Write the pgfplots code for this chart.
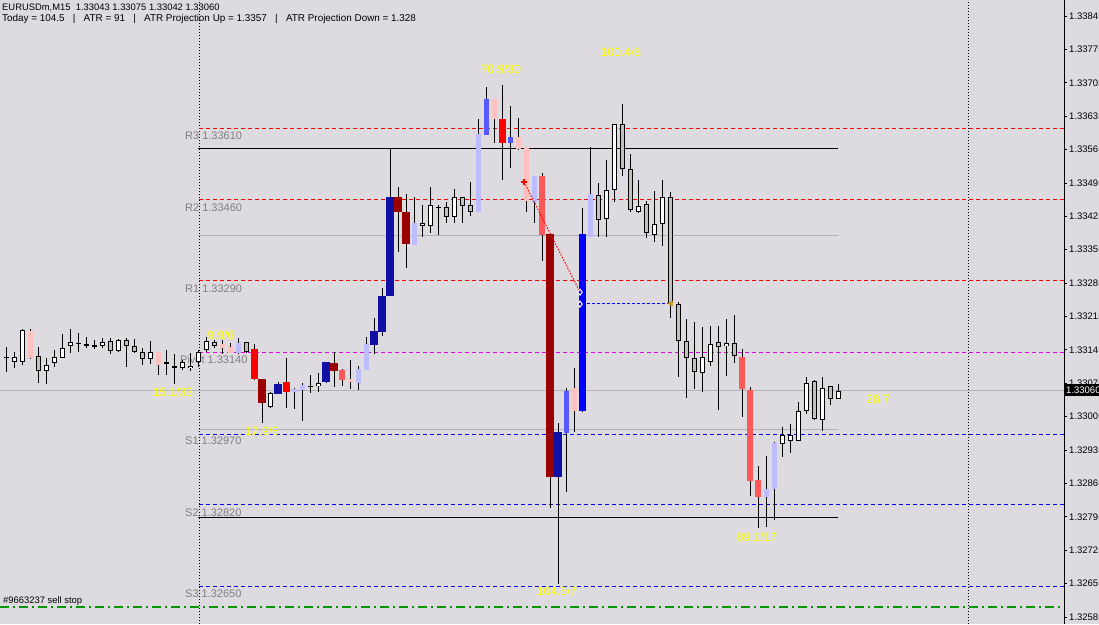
\documentclass[border=0pt]{standalone}
\usepackage{pgfplots}
\pgfplotsset{compat=1.18}
\usepackage{pgfplotstable}
\usepackage{fontspec}
\setmainfont{Liberation Sans}
\definecolor{bg}{RGB}{221,219,224}
\definecolor{lvl}{RGB}{128,128,128}
\definecolor{grayline}{RGB}{178,178,184}
\definecolor{silver}{RGB}{192,192,192}
\definecolor{lpink}{RGB}{255,192,192}
\definecolor{lred}{RGB}{255,88,88}
\definecolor{pred}{RGB}{255,0,0}
\definecolor{dred}{RGB}{153,0,0}
\definecolor{lblue}{RGB}{188,188,255}
\definecolor{mblue}{RGB}{88,88,255}
\definecolor{pblue}{RGB}{0,0,255}
\definecolor{dblue}{RGB}{16,16,165}
\definecolor{mag}{RGB}{230,0,230}
\definecolor{stopgreen}{RGB}{0,150,0}
\definecolor{yel}{RGB}{255,255,0}
\definecolor{orng}{RGB}{210,160,30}
\newcommand{\fs}[1]{\fontsize{#1}{#1}\selectfont}

% i = bar index, O H L C = prices, k = colour class
% k: 0 white, 1 grey, 2 light pink, 3 light red, 4 red, 5 dark red,
%    6 light blue, 7 medium blue, 8 blue, 9 dark blue
\pgfplotstableread{
i O H L C k
0 1.33130 1.33151 1.33099 1.33132 0
1 1.33120 1.33141 1.33109 1.33132 0
2 1.33120 1.33189 1.33115 1.33187 0
3 1.33185 1.33189 1.33126 1.33128 2
4 1.33132 1.33151 1.33076 1.33101 1
5 1.33101 1.33130 1.33074 1.33115 0
6 1.33118 1.33145 1.33111 1.33130 0
7 1.33130 1.33180 1.33130 1.33151 0
8 1.33153 1.33189 1.33138 1.33162 0
9 1.33159 1.33182 1.33141 1.33159 0
10 1.33155 1.33172 1.33149 1.33159 0
11 1.33155 1.33168 1.33149 1.33155 0
12 1.33153 1.33170 1.33149 1.33162 0
13 1.33164 1.33170 1.33138 1.33143 1
14 1.33143 1.33170 1.33141 1.33166 0
15 1.33168 1.33172 1.33111 1.33155 1
16 1.33153 1.33168 1.33138 1.33141 1
17 1.33143 1.33149 1.33115 1.33128 1
18 1.33126 1.33164 1.33115 1.33141 0
19 1.33141 1.33141 1.33092 1.33115 2
20 1.33118 1.33145 1.33092 1.33118 0
21 1.33107 1.33138 1.33074 1.33111 0
22 1.33107 1.33124 1.33103 1.33120 0
23 1.33107 1.33141 1.33103 1.33113 0
24 1.33120 1.33145 1.33109 1.33141 0
25 1.33145 1.33172 1.33141 1.33164 0
26 1.33162 1.33166 1.33149 1.33153 1
27 1.33157 1.33166 1.33138 1.33149 2
28 1.33151 1.33159 1.33138 1.33138 2
29 1.33138 1.33170 1.33138 1.33159 6
30 1.33162 1.33162 1.33138 1.33141 1
31 1.33147 1.33159 1.33084 1.33084 4
32 1.33084 1.33084 1.32992 1.33034 5
33 1.33027 1.33057 1.33025 1.33055 0
34 1.33055 1.33078 1.33055 1.33076 9
35 1.33078 1.33128 1.33023 1.33057 4
36 1.33057 1.33067 1.33023 1.33065 6
37 1.33061 1.33076 1.32996 1.33071 6
38 1.33069 1.33092 1.33055 1.33069 0
39 1.33069 1.33097 1.33057 1.33076 0
40 1.33078 1.33120 1.33076 1.33120 9
41 1.33120 1.33141 1.33067 1.33103 5
42 1.33105 1.33105 1.33071 1.33084 3
43 1.33084 1.33124 1.33063 1.33078 2
44 1.33076 1.33113 1.33061 1.33105 6
45 1.33103 1.33172 1.33103 1.33159 6
46 1.33157 1.33212 1.33138 1.33185 9
47 1.33185 1.33275 1.33174 1.33260 9
48 1.33258 1.33568 1.33258 1.33466 9
49 1.33466 1.33487 1.33350 1.33434 5
50 1.33436 1.33474 1.33319 1.33369 5
51 1.33365 1.33466 1.33365 1.33413 6
52 1.33405 1.33449 1.33382 1.33413 0
53 1.33405 1.33487 1.33392 1.33449 0
54 1.33445 1.33449 1.33386 1.33445 0
55 1.33445 1.33455 1.33411 1.33424 1
56 1.33424 1.33482 1.33411 1.33466 0
57 1.33466 1.33466 1.33411 1.33449 1
58 1.33449 1.33497 1.33426 1.33434 1
59 1.33434 1.33629 1.33434 1.33598 6
60 1.33596 1.33698 1.33596 1.33671 7
61 1.33671 1.33671 1.33579 1.33629 2
62 1.33631 1.33702 1.33503 1.33579 4
63 1.33579 1.33658 1.33528 1.33591 7
64 1.33591 1.33631 1.33564 1.33566 2
65 1.33570 1.33570 1.33436 1.33457 2
66 1.33457 1.33510 1.33411 1.33510 6
67 1.33510 1.33518 1.33333 1.33386 3
68 1.33388 1.33388 1.32814 1.32879 5
69 1.32879 1.32992 1.32656 1.32973 9
70 1.32971 1.33065 1.32847 1.33059 7
71 1.33067 1.33107 1.32973 1.33017 2
72 1.33017 1.33442 1.33015 1.33388 8
73 1.33382 1.33572 1.33382 1.33472 6
74 1.33472 1.33495 1.33382 1.33419 1
75 1.33419 1.33543 1.33382 1.33480 0
76 1.33480 1.33619 1.33457 1.33619 0
77 1.33619 1.33663 1.33512 1.33524 1
78 1.33526 1.33556 1.33434 1.33440 1
79 1.33436 1.33503 1.33434 1.33449 0
80 1.33451 1.33459 1.33380 1.33390 1
81 1.33386 1.33478 1.33371 1.33409 0
82 1.33409 1.33501 1.33363 1.33466 0
83 1.33466 1.33476 1.33212 1.33243 1
84 1.33241 1.33245 1.33088 1.33164 1
85 1.33164 1.33210 1.33044 1.33128 1
86 1.33128 1.33203 1.33063 1.33099 1
87 1.33097 1.33195 1.33057 1.33130 0
88 1.33122 1.33195 1.33111 1.33159 0
89 1.33162 1.33195 1.33019 1.33151 1
90 1.33153 1.33210 1.33092 1.33159 0
91 1.33159 1.33220 1.33118 1.33132 1
92 1.33130 1.33147 1.33004 1.33063 3
93 1.33061 1.33069 1.32839 1.32870 3
94 1.32872 1.32902 1.32772 1.32837 3
95 1.32837 1.32925 1.32776 1.32855 6
96 1.32853 1.32952 1.32790 1.32950 6
97 1.32950 1.32983 1.32920 1.32967 0
98 1.32954 1.32990 1.32929 1.32967 0
99 1.32956 1.33036 1.32954 1.33019 0
100 1.33019 1.33090 1.33013 1.33078 0
101 1.33080 1.33082 1.33000 1.33000 1
102 1.33000 1.33090 1.32977 1.33067 0
103 1.33069 1.33069 1.33029 1.33042 1
104 1.33043 1.33075 1.33042 1.33060 0
}\candles

% body of one colour class, no outline
\newcommand{\cbody}[3]{%
\addplot[forget plot, draw=none, mark=none, restrict expr to domain={\thisrow{k}}{#1:#1},
  error bars/.cd, y dir=both, y explicit, error mark=none,
  error bar style={draw=#2, solid, line width=#3}]
  table[x=i, y expr={(\thisrow{O}+\thisrow{C})/2},
        y error expr={max(abs(\thisrow{C}-\thisrow{O})/2,0.0000105)}] {\candles};}
% fill of an outlined body (1px inside the outline)
\newcommand{\cfill}[3]{%
\addplot[forget plot, draw=none, mark=none, restrict expr to domain={\thisrow{k}}{#1:#1},
  error bars/.cd, y dir=both, y explicit, error mark=none,
  error bar style={draw=#2, solid, line width=#3}]
  table[x=i, y expr={(\thisrow{O}+\thisrow{C})/2},
        y error expr={max(abs(\thisrow{C}-\thisrow{O})/2-0.000021,0)}] {\candles};}

\begin{document}
\begin{tikzpicture}[x=1pt,y=1pt]
\useasboundingbox (0,0) rectangle (1099,624);
\fill[bg] (0,0) rectangle (1099,624);
\begin{axis}[at={(0,0)}, anchor=south west, scale only axis,
  width=1064pt, height=624pt,
  xmin=-0.75, xmax=132.25, ymin=1.325703, ymax=1.338785,
  axis line style={draw=none}, xtick=\empty,
  ytick pos=right, tick align=outside, major tick length=3pt,
  ytick style={black, line width=0.8pt},
  scaled y ticks=false,
  ytick={1.32585,1.32655,1.32725,1.32795,1.32865,1.32935,1.33005,1.33075,1.33145,1.33215,1.33285,1.33355,1.33425,1.33495,1.33565,1.33635,1.33705,1.33775,1.33845},
  yticklabels={1.32585,1.32655,1.32725,1.32795,1.32865,1.32935,1.33005,1.33075,1.33145,1.33215,1.33285,1.33355,1.33425,1.33495,1.33565,1.33635,1.33705,1.33775,1.33845},
  yticklabel style={anchor=west, inner sep=0pt, xshift=2pt, font=\fs{9.5}},
  clip=false]

% day separators
\addplot[black, line width=0.8pt, dash pattern=on 1pt off 2pt] coordinates {(24.125,1.325703) (24.125,1.338785)};
\addplot[black, line width=0.8pt, dash pattern=on 1pt off 2pt] coordinates {(120.25,1.325703) (120.25,1.338785)};

% grey and black lines
\addplot[grayline, line width=1.1pt] coordinates {(-0.75,1.33060) (132.25,1.33060)};
\addplot[grayline, line width=1.1pt] coordinates {(24,1.33385) (104,1.33385)};
\addplot[grayline, line width=1.1pt] coordinates {(24,1.32978) (104,1.32978)};
\addplot[black, line width=0.9pt] coordinates {(24,1.33568) (104,1.33568)};
\addplot[black, line width=0.9pt] coordinates {(24,1.32793) (104,1.32793)};

% pivot levels
\addplot[pred, line width=0.9pt, dash pattern=on 4pt off 3pt] coordinates {(24.125,1.33610) (132.25,1.33610)};
\addplot[pred, line width=0.9pt, dash pattern=on 4pt off 3pt] coordinates {(24.125,1.33460) (132.25,1.33460)};
\addplot[pred, line width=0.9pt, dash pattern=on 4pt off 3pt] coordinates {(24.125,1.33290) (132.25,1.33290)};
\addplot[mag, line width=0.9pt, dash pattern=on 4pt off 3pt] coordinates {(24.125,1.33140) (132.25,1.33140)};
\addplot[pblue, line width=0.9pt, dash pattern=on 4pt off 3pt] coordinates {(24.125,1.32968) (132.25,1.32968)};
\addplot[pblue, line width=0.9pt, dash pattern=on 4pt off 3pt] coordinates {(24.125,1.32820) (132.25,1.32820)};
\addplot[pblue, line width=0.9pt, dash pattern=on 4pt off 3pt] coordinates {(24.125,1.32650) (132.25,1.32650)};

% sell stop order
\addplot[stopgreen, line width=1.5pt, dash pattern=on 9pt off 4pt on 2pt off 4pt] coordinates {(-0.75,1.32606) (132.25,1.32606)};

% level labels
\node[anchor=base west, inner sep=0pt, text=lvl, font=\fs{11}, yshift=-11.5pt] at (axis cs:22.375,1.33610) {R3 1.33610};
\node[anchor=base west, inner sep=0pt, text=lvl, font=\fs{11}, yshift=-11.5pt] at (axis cs:22.375,1.33460) {R2 1.33460};
\node[anchor=base west, inner sep=0pt, text=lvl, font=\fs{11}, yshift=-11.5pt] at (axis cs:22.375,1.33290) {R1 1.33290};
\node[anchor=base west, inner sep=0pt, text=lvl, font=\fs{11}, yshift=-11.5pt] at (axis cs:21.75,1.33140) {Pivot 1.33140};
\node[anchor=base west, inner sep=0pt, text=lvl, font=\fs{11}, yshift=-11.5pt] at (axis cs:22.375,1.32970) {S1 1.32970};
\node[anchor=base west, inner sep=0pt, text=lvl, font=\fs{11}, yshift=-11.5pt] at (axis cs:22.375,1.32820) {S2 1.32820};
\node[anchor=base west, inner sep=0pt, text=lvl, font=\fs{11}, yshift=-11.5pt] at (axis cs:22.375,1.32650) {S3 1.32650};

% wicks
\addplot[forget plot, draw=none, mark=none,
  error bars/.cd, y dir=both, y explicit, error mark=none,
  error bar style={draw=black, solid, line width=1pt}]
  table[x=i, y expr={(\thisrow{H}+\thisrow{L})/2}, y error expr={(\thisrow{H}-\thisrow{L})/2}] {\candles};

% bodies
\cbody{0}{black}{5pt}
\cfill{0}{white}{3pt}
\cbody{1}{black}{5pt}
\cfill{1}{silver}{3pt}
\cbody{2}{lpink}{5pt}
\cbody{3}{lred}{5.5pt}
\cbody{4}{pred}{7pt}
\cbody{5}{dred}{8pt}
\cbody{6}{lblue}{5pt}
\cbody{7}{mblue}{5pt}
\cbody{8}{pblue}{7pt}
\cbody{9}{dblue}{8pt}

% trade marks
\addplot[pred, line width=1pt, dash pattern=on 1.5pt off 1.5pt] coordinates {(64.75,1.33497) (71.75,1.33266)};
\addplot[pblue, line width=1pt, dash pattern=on 3pt off 2pt] coordinates {(72.6,1.33242) (83.0,1.33242)};
\addplot[only marks, mark=+, mark size=2.8pt, pred, line width=1.5pt] coordinates {(64.75,1.33497)};
\addplot[only marks, mark=diamond*, mark size=3pt, draw=white, fill=pblue, line width=1pt] coordinates {(71.75,1.33266) (71.75,1.33241)};
\addplot[only marks, mark=triangle*, mark size=3pt, orng, mark options={rotate=90}] coordinates {(83.125,1.33242)};

\coordinate (cp) at (axis cs:132.25,1.33060);
\end{axis}

% yellow labels
\begin{scope}[every node/.style={text=yel, font=\fs{12}, inner sep=0pt}]
\node at (501,555) {70.9/30};
\node at (621,572) {100.4/8};
\node at (221,289) {9.9/6};
\node at (173,232) {15.1/33};
\node at (262,193) {17.9/5};
\node at (557,33) {104.5/7};
\node at (757,87) {89.1/17};
\node at (878,225) {28.7};
\end{scope}

% header texts
\node[anchor=base west, inner sep=0pt, font=\fs{9.4}] at (2,613) {EURUSDm,M15\ \ 1.33043 1.33075 1.33042 1.33060};
\node[anchor=base west, inner sep=0pt, font=\fs{9.9}] at (2,602) {Today = 104.5\ \ \ |\ \ \ ATR = 91\ \ \ |\ \ \ ATR Projection Up = 1.3357\ \ \ |\ \ \ ATR Projection Down = 1.328};
\node[anchor=base west, inner sep=0pt, font=\fs{9.4}] at (3,21) {\#9663237 sell stop};

% price scale line and current price
\draw[black, line width=1pt] (1064.5,0) -- (1064.5,624);
\node[anchor=west, fill=black, text=white, inner xsep=2pt, inner ysep=0pt, minimum height=12pt, font=\fs{9.5}] at (cp) {1.33060};
\end{tikzpicture}
\end{document}
